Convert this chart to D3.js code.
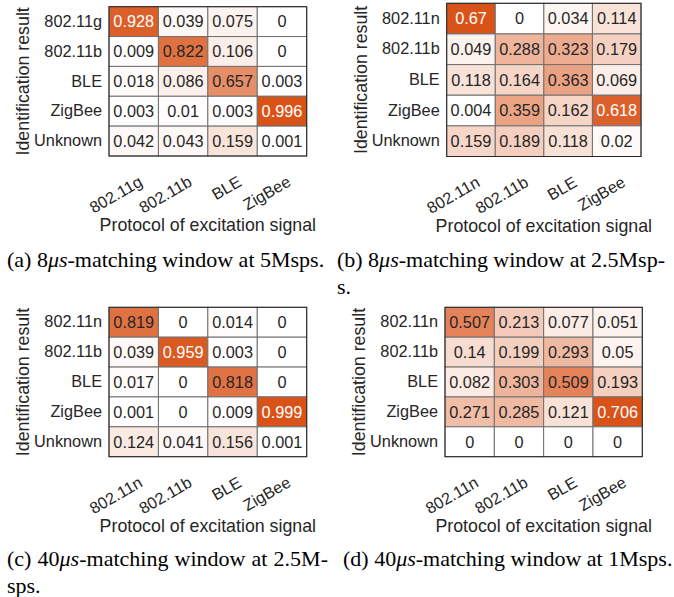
<!DOCTYPE html>
<html>
<head>
<meta charset="utf-8">
<script src="https://cdn.jsdelivr.net/npm/d3@7"></script>
<style>
  html, body { margin: 0; padding: 0; background: #fff; }
  svg { display: block; }
</style>
</head>
<body>
<svg id="chart" width="674" height="597"></svg>
<script>
// ---------- data ----------
const colsG = ["802.11g", "802.11b", "BLE", "ZigBee"];
const rowsG = ["802.11g", "802.11b", "BLE", "ZigBee", "Unknown"];
const colsN = ["802.11n", "802.11b", "BLE", "ZigBee"];
const rowsN = ["802.11n", "802.11b", "BLE", "ZigBee", "Unknown"];

const valuesA = [
  [0.928, 0.039, 0.075, 0],
  [0.009, 0.822, 0.106, 0],
  [0.018, 0.086, 0.657, 0.003],
  [0.003, 0.01, 0.003, 0.996],
  [0.042, 0.043, 0.159, 0.001]
];
const valuesB = [
  [0.67, 0, 0.034, 0.114],
  [0.049, 0.288, 0.323, 0.179],
  [0.118, 0.164, 0.363, 0.069],
  [0.004, 0.359, 0.162, 0.618],
  [0.159, 0.189, 0.118, 0.02]
];
const valuesC = [
  [0.819, 0, 0.014, 0],
  [0.039, 0.959, 0.003, 0],
  [0.017, 0, 0.818, 0],
  [0.001, 0, 0.009, 0.999],
  [0.124, 0.041, 0.156, 0.001]
];
const valuesD = [
  [0.507, 0.213, 0.077, 0.051],
  [0.14, 0.199, 0.293, 0.05],
  [0.082, 0.303, 0.509, 0.193],
  [0.271, 0.285, 0.121, 0.706],
  [0, 0, 0, 0]
];

const xTitle = "Protocol of excitation signal";
const yTitle = "Identification result";

// ---------- layout ----------
const panels = [
  { values: valuesA, cols: colsG, rows: rowsG, x0: 109, x1: 306.7, y0: 6.7, y1: 156 },
  { values: valuesB, cols: colsN, rows: rowsN, x0: 446.7, x1: 641, y0: 3.3, y1: 156.5 },
  { values: valuesC, cols: colsN, rows: rowsN, x0: 109, x1: 306.7, y0: 307.3, y1: 456.7 },
  { values: valuesD, cols: colsN, rows: rowsN, x0: 445, x1: 642.3, y0: 307.3, y1: 456.7 }
];

const svg = d3.select("#chart");
const sans = "'Liberation Sans', Arial, Helvetica, sans-serif";
const serif = "'Liberation Serif', 'Times New Roman', Times, serif";
const ink = "#262626";
const tickSize = 16.3;

panels.forEach(p => {
  const g = svg.append("g");
  const x = d3.scaleBand().domain(p.cols).range([p.x0, p.x1]);
  const y = d3.scaleBand().domain(p.rows).range([p.y0, p.y1]);
  const vmax = d3.max(p.values.flat());
  const color = d3.scaleLinear().domain([0, vmax]).range(["#ffffff", "#d95319"]).interpolate(d3.interpolateRgb);

  const cells = [];
  p.values.forEach((row, i) => row.forEach((v, j) => cells.push({ r: p.rows[i], c: p.cols[j], v })));

  g.selectAll("rect.cell").data(cells).join("rect")
    .attr("class", "cell")
    .attr("x", d => x(d.c)).attr("y", d => y(d.r))
    .attr("width", x.bandwidth()).attr("height", y.bandwidth())
    .attr("fill", d => color(d.v))
    .attr("stroke", "#707070").attr("stroke-width", 1);

  g.append("rect")
    .attr("x", p.x0).attr("y", p.y0)
    .attr("width", p.x1 - p.x0).attr("height", p.y1 - p.y0)
    .attr("fill", "none").attr("stroke", ink).attr("stroke-width", 1);

  g.selectAll("text.val").data(cells).join("text")
    .attr("class", "val")
    .attr("x", d => x(d.c) + x.bandwidth() / 2)
    .attr("y", d => y(d.r) + y.bandwidth() / 2)
    .attr("dy", "0.36em")
    .attr("text-anchor", "middle")
    .attr("font-family", sans).attr("font-size", tickSize)
    .attr("fill", d => (d.v / vmax > 0.87 ? "#ffffff" : ink))
    .text(d => String(d.v));

  // left axis
  const ya = g.append("g").attr("transform", `translate(${p.x0},0)`)
    .call(d3.axisLeft(y).tickSize(0).tickPadding(7));
  ya.select(".domain").remove();
  ya.selectAll("text").attr("font-family", sans).attr("font-size", tickSize).attr("fill", ink);

  // bottom axis
  const xa = g.append("g").attr("transform", `translate(0,${p.y1})`)
    .call(d3.axisBottom(x).tickSize(0));
  xa.select(".domain").remove();
  xa.selectAll("text")
    .attr("font-family", sans).attr("font-size", tickSize).attr("fill", ink)
    .attr("text-anchor", "end")
    .attr("x", 0).attr("y", 0).attr("dy", null)
    .attr("transform", "translate(10,29) rotate(-30)");

  // titles
  g.append("text")
    .attr("x", (p.x0 + p.x1) / 2).attr("y", p.y1 + 75)
    .attr("text-anchor", "middle")
    .attr("font-family", sans).attr("font-size", 17.8).attr("fill", ink)
    .text(xTitle);
  g.append("text")
    .attr("transform", `translate(${p.x0 - 80},${(p.y0 + p.y1) / 2}) rotate(-90)`)
    .attr("text-anchor", "middle")
    .attr("font-family", sans).attr("font-size", 17.8).attr("fill", ink)
    .text(yTitle);
});

// ---------- captions ----------
const captions = [
  { x: 7, y: 266.7, pre: "(a) 8", post: "-matching window at 5Msps.", width: null },
  { x: 337, y: 266.7, pre: "(b) 8", post: "-matching window at 2.5Msp-", width: 328 },
  { x: 337, y: 294.4, pre: "", post: "s.", width: null, plain: true },
  { x: 7, y: 565.7, pre: "(c) 40", post: "-matching window at 2.5M-", width: 321 },
  { x: 7, y: 593.3, pre: "", post: "sps.", width: null, plain: true },
  { x: 343, y: 565.7, pre: "(d) 40", post: "-matching window at 1Msps.", width: null }
];
captions.forEach(c => {
  const t = svg.append("text")
    .attr("x", c.x).attr("y", c.y)
    .attr("font-family", serif).attr("font-size", 22).attr("fill", "#000");
  if (c.plain) {
    t.text(c.post);
  } else {
    t.append("tspan").text(c.pre);
    t.append("tspan").attr("font-style", "italic").text("\u03bcs");
    t.append("tspan").text(c.post);
  }
  if (c.width) {
    const nat = t.node().getComputedTextLength();
    const full = (c.pre + "μs" + c.post);
    const spaces = (full.match(/ /g) || []).length;
    t.attr("word-spacing", (c.width - nat) / spaces);
  }
});
</script>
</body>
</html>
